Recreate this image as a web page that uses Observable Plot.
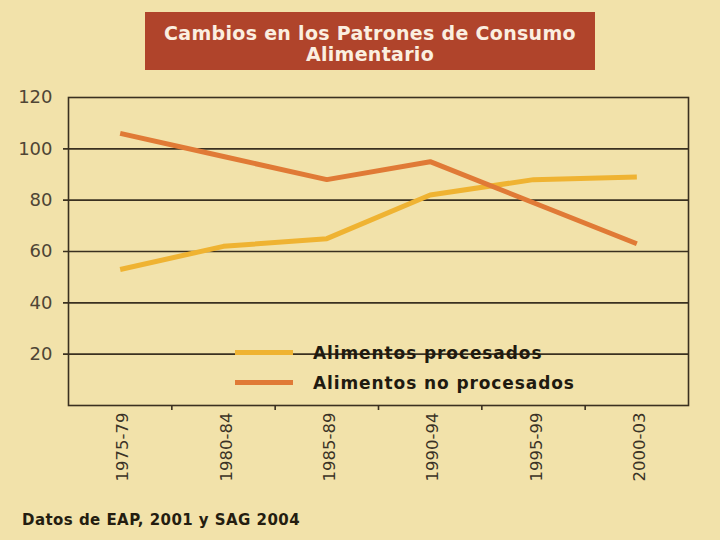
<!DOCTYPE html>
<html>
<head>
<meta charset="utf-8">
<script src="https://cdn.jsdelivr.net/npm/d3@7"></script>
<script src="https://cdn.jsdelivr.net/npm/@observablehq/plot@0.6"></script>
<style>
  html, body { margin: 0; padding: 0; background: #f2e2aa; }
  #wrap { position: relative; width: 720px; height: 540px; overflow: hidden; background: #f2e2aa; font-family: "DejaVu Sans", sans-serif; }
  #title { position: absolute; left: 145px; top: 12px; width: 450px; height: 58px; background: #b0442b; color: #fbefe0; font-weight: bold; font-size: 19px; letter-spacing: 0.3px; line-height: 21px; text-align: center; box-sizing: border-box; padding-top: 11px; }
  #chart { position: absolute; left: 0; top: 0; }
  .leg { position: absolute; font-weight: bold; font-size: 17px; letter-spacing: 0.9px; color: #1f1a10; white-space: nowrap; }
  .sw { position: absolute; height: 5px; }
  #foot { position: absolute; left: 22px; top: 511px; font-weight: bold; font-size: 15px; letter-spacing: 0.45px; color: #241d10; white-space: nowrap; }
</style>
</head>
<body>
<div id="wrap">
  <div id="chart"></div>
  <div id="title">Cambios en los Patrones de Consumo<br>Alimentario</div>
  <div class="sw" style="left:235px; top:350px; width:58px; background:#efb332;"></div>
  <div class="leg" style="left:313px; top:343px;">Alimentos procesados</div>
  <div class="sw" style="left:235px; top:380px; width:58px; background:#e07a36;"></div>
  <div class="leg" style="left:313px; top:373px;">Alimentos no procesados</div>
  <div id="foot">Datos de EAP, 2001 y SAG 2004</div>
</div>
<script>
const categories = ["1975-79", "1980-84", "1985-89", "1990-94", "1995-99", "2000-03"];
const procesados = [53, 62, 65, 82, 88, 89];
const noProcesados = [106, 97, 88, 95, 79, 63];
const yTicks = [20, 40, 60, 80, 100, 120];
const gridValues = [20, 40, 60, 80, 100];

const rows = [];
categories.forEach((c, i) => {
  rows.push({i, cat: c, serie: "Alimentos procesados", v: procesados[i]});
});
categories.forEach((c, i) => {
  rows.push({i, cat: c, serie: "Alimentos no procesados", v: noProcesados[i]});
});
const boundaries = categories.slice(1).map((_, i) => i + 0.5);
const centers = categories.map((_, i) => i);

const ink = "#3a3020";
const chart = Plot.plot({
  width: 720,
  height: 490,
  marginTop: 97,
  marginBottom: 85,
  marginLeft: 68,
  marginRight: 32,
  style: { background: "transparent", fontFamily: "DejaVu Sans, sans-serif" },
  x: { type: "linear", domain: [-0.5, categories.length - 0.5] },
  y: { domain: [0, 120] },
  color: { domain: ["Alimentos procesados", "Alimentos no procesados"], range: ["#efb332", "#e07a36"] },
  marks: [
    Plot.ruleY(gridValues, { stroke: ink, strokeWidth: 1.6, insetLeft: -5 }),
    Plot.frame({ stroke: ink, strokeWidth: 1.6 }),
    Plot.axisY(yTicks, { anchor: "left", tickSize: 0, tickPadding: 16, fontSize: 18, fill: "#4f4535", label: null }),
    Plot.axisX(boundaries, { anchor: "bottom", tickSize: 5, stroke: ink, strokeWidth: 1.6, tickFormat: () => "", label: null }),
    Plot.axisX(centers, { anchor: "bottom", tickSize: 0, tickPadding: 7, tickRotate: -90, fontSize: 16.5, dx: 3, fill: "#3a3226", tickFormat: i => categories[i], label: null }),
    Plot.line(rows, { x: "i", y: "v", z: "serie", stroke: "serie", strokeWidth: 5, strokeLinejoin: "miter", strokeLinecap: "butt" })
  ]
});
document.getElementById("chart").appendChild(chart);
</script>
</body>
</html>
